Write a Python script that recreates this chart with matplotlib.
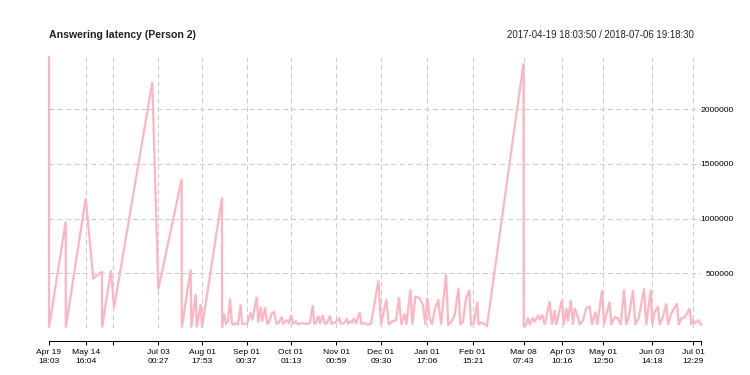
import matplotlib
matplotlib.use("Agg")
import matplotlib.pyplot as plt
import matplotlib.dates as mdates
import numpy as np
from datetime import datetime, timedelta

# ---------------- data ----------------
start_time = "2017-04-19 18:03:50"
end_time = "2018-07-06 19:18:30"

# elapsed days since the first message
days = [
    0.00, 0.03, 11.35, 11.42, 24.94, 30.10, 36.01, 36.08, 42.13, 44.17,
    70.20, 74.27, 90.17, 90.24, 96.29, 96.70, 99.69, 100.37, 103.08, 103.97,
    117.56, 117.63, 118.92, 120.28, 121.64, 122.99, 124.35, 125.71, 127.07, 128.43,
    130.27, 131.15, 133.19, 134.55, 137.06, 138.15, 141.14, 142.23, 143.86, 144.94,
    146.78, 148.34, 149.50, 151.33, 152.89, 154.73, 156.29, 158.13, 159.21, 161.52,
    163.09, 164.45, 166.01, 167.84, 169.20, 171.92, 173.96, 176.00, 177.36, 179.19,
    180.28, 181.43, 183.00, 184.15, 185.99, 187.55, 188.91, 190.95, 192.10, 194.35,
    197.27, 198.42, 200.46, 202.30, 203.38, 204.54, 205.90, 207.26, 208.62, 209.98,
    211.13, 212.22, 214.05, 216.77, 218.81, 223.90, 225.60, 229.21, 230.84, 233.08,
    235.80, 237.84, 239.40, 241.71, 242.80, 245.65, 246.87, 248.91, 251.90, 254.14,
    255.71, 257.07, 258.70, 260.26, 262.10, 264.54, 266.38, 269.77, 271.34, 273.17,
    275.69, 278.27, 279.49, 281.33, 283.36, 285.61, 286.76, 288.80, 291.04, 291.86,
    293.56, 295.60, 297.63, 322.44, 322.57, 324.14, 325.50, 326.65, 328.89, 330.05,
    332.29, 333.45, 335.01, 336.84, 340.24, 341.80, 343.64, 344.73, 348.60, 349.75,
    351.52, 352.68, 354.51, 356.07, 357.23, 359.47, 360.63, 362.87, 365.11, 367.42,
    368.98, 371.23, 372.59, 375.78, 377.14, 378.70, 381.01, 382.10, 384.41, 386.65,
    388.49, 390.73, 392.29, 393.92, 396.85, 398.41, 400.72, 404.32, 405.88, 408.87,
    409.96, 411.59, 413.83, 414.99, 417.23, 419.47, 420.63, 422.87, 426.74, 427.90,
    429.67, 432.39, 435.37, 436.46, 437.62, 439.18, 441.49, 443.05,
]

# answering latency (thousands of seconds)
latency_k = [
    2475, 5, 972, 5, 1186, 454, 515, 5, 530, 183,
    2246, 354, 1360, 5, 536, 5, 311, 5, 219, 5,
    1195, 5, 133, 40, 60, 270, 40, 30, 45, 35,
    215, 40, 35, 40, 142, 70, 285, 50, 194, 60,
    188, 40, 50, 133, 145, 40, 50, 103, 40, 70,
    45, 118, 40, 60, 35, 45, 40, 38, 50, 209,
    40, 45, 112, 40, 118, 40, 45, 112, 40, 50,
    88, 40, 45, 80, 40, 60, 50, 90, 40, 100,
    142, 40, 45, 30, 40, 435, 30, 262, 30, 60,
    70, 281, 30, 133, 30, 354, 30, 285, 275, 209,
    30, 276, 90, 30, 165, 262, 30, 490, 30, 50,
    120, 368, 30, 60, 270, 347, 30, 50, 240, 30,
    50, 40, 20, 2420, 10, 30, 94, 30, 94, 60,
    109, 75, 124, 30, 245, 30, 164, 30, 260, 30,
    180, 60, 255, 30, 180, 100, 30, 70, 185, 194,
    30, 148, 30, 345, 30, 118, 240, 30, 100, 88,
    30, 352, 30, 103, 345, 30, 88, 360, 30, 345,
    30, 148, 194, 30, 103, 224, 30, 133, 224, 30,
    88, 103, 179, 30, 70, 45, 70, 30,
]

tick_times = [
    "2017-04-19 18:03", "2017-05-14 16:04", "2017-06-02 12:00", "2017-07-03 00:27",
    "2017-08-01 17:53", "2017-09-01 00:37", "2017-10-01 01:13", "2017-11-01 00:59",
    "2017-12-01 09:30", "2018-01-01 17:06", "2018-02-01 15:21", "2018-03-08 07:43",
    "2018-04-03 10:16", "2018-05-01 12:50", "2018-06-03 14:18", "2018-07-01 12:29",
    "2018-07-06 19:18",
]
tick_labels = [
    "Apr 19\n18:03", "May 14\n16:04", "", "Jul 03\n00:27",
    "Aug 01\n17:53", "Sep 01\n00:37", "Oct 01\n01:13", "Nov 01\n00:59",
    "Dec 01\n09:30", "Jan 01\n17:06", "Feb 01\n15:21", "Mar 08\n07:43",
    "Apr 03\n10:16", "May 01\n12:50", "Jun 03\n14:18", "Jul 01\n12:29",
    "",
]
y_ticks = [500000, 1000000, 1500000, 2000000]

title = "Answering latency (Person 2)"

# ---------------- plot ----------------
plt.rcParams['font.family'] = ['Liberation Sans', 'DejaVu Sans']

fmt = "%Y-%m-%d %H:%M:%S"
t0 = datetime.strptime(start_time, fmt)
t_end = datetime.strptime(end_time, fmt)
x = mdates.date2num([t0 + timedelta(days=d) for d in days])
values = np.array(latency_k) * 1000.0
xt = mdates.date2num([datetime.strptime(t, "%Y-%m-%d %H:%M") for t in tick_times])

fig = plt.figure(figsize=(7.5, 3.75), dpi=100)
ax = fig.add_axes([49 / 750, 1 - 328 / 375, 652 / 750, 271 / 375])

ax.grid(True, color="#cdcdcd", linewidth=0.75, linestyle=(0, (5, 3)))
ax.set_axisbelow(True)

ax.plot(x, values, color="#FFB6C1", linewidth=1.6, solid_joinstyle="miter",
        clip_on=False)

ax.set_xlim(mdates.date2num(t0), mdates.date2num(t_end))
ax.set_ylim(0, 2477000)

ax.set_xticks(xt)
ax.set_xticklabels(tick_labels)
ax.set_yticks(y_ticks)
ax.set_yticklabels([str(v) for v in y_ticks])

for s in ["top", "left", "right"]:
    ax.spines[s].set_visible(False)
ax.spines["bottom"].set_position(("outward", 9.4))
ax.spines["bottom"].set_linewidth(0.75)

ax.tick_params(axis="x", direction="out", length=3, width=0.75, pad=3,
               colors="black", labelsize=6.1)
ax.yaxis.tick_right()
ax.tick_params(axis="y", length=0, pad=23.8, labelsize=6.1)
for lbl in ax.get_yticklabels():
    lbl.set_horizontalalignment("right")
for lbl in ax.get_xticklabels():
    lbl.set_linespacing(1.35)

fig.text(49 / 750, 1 - 35 / 375, title, fontsize=7.6, fontweight="bold",
         ha="left", va="center", color="#222222")
fig.text(694 / 750, 1 - 35 / 375, f"{start_time} / {end_time}", fontsize=6.9,
         ha="right", va="center", color="#222222")

fig.savefig("out.png", dpi=100)
